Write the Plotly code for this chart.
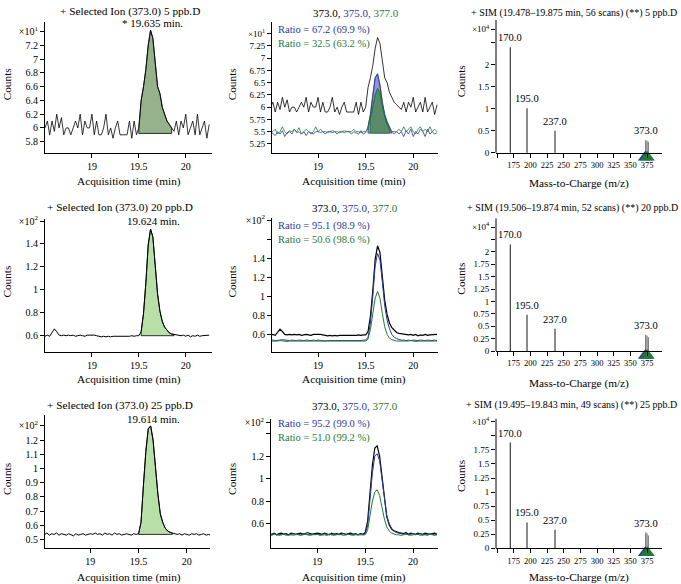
import plotly.graph_objects as go

# ------------------------------------------------------------------ data
TIME_MIN = [18.5, 18.525, 18.55, 18.575, 18.6, 18.625, 18.65, 18.675, 18.7, 18.725,
            18.75, 18.775, 18.8, 18.825, 18.85, 18.875, 18.9, 18.925, 18.95, 18.975,
            19.0, 19.025, 19.05, 19.075, 19.1, 19.125, 19.15, 19.175, 19.2, 19.225,
            19.25, 19.275, 19.3, 19.325, 19.35, 19.375, 19.4, 19.425, 19.45, 19.475,
            19.5, 19.525, 19.55, 19.575, 19.6, 19.625, 19.65, 19.675, 19.7, 19.725,
            19.75, 19.775, 19.8, 19.825, 19.85, 19.875, 19.9, 19.925, 19.95, 19.975,
            20.0, 20.025, 20.05, 20.075, 20.1, 20.125, 20.15, 20.175, 20.2, 20.225,
            20.25]

# 5 ppb (x10^1 counts)
ION373_5PPB = [6.0, 6.1, 5.9, 6.1, 5.95, 6.2, 6.0, 6.15, 5.9, 6.0,
               6.0, 5.9, 6.0, 6.1, 6.0, 6.2, 5.9, 6.1, 6.0, 6.0,
               6.2, 5.9, 6.1, 5.9, 5.9, 6.0, 6.2, 5.9, 6.0, 5.85,
               6.0, 6.1, 5.9, 5.9, 5.9, 5.9, 6.1, 5.85, 6.1, 5.9,
               6.0, 6.4, 6.6, 6.85, 7.2, 7.42, 7.3, 6.95, 6.6, 6.5,
               6.3, 6.2, 6.1, 6.05, 6.0, 5.95, 6.1, 5.9, 6.1, 6.0,
               6.2, 5.9, 6.0, 6.1, 5.9, 6.2, 5.9, 6.0, 6.1, 5.85,
               6.05]
ION375_5PPB = [5.5, 5.45, 5.42, 5.5, 5.45, 5.52, 5.4, 5.48, 5.5, 5.45,
               5.55, 5.48, 5.5, 5.45, 5.5, 5.42, 5.5, 5.48, 5.45, 5.5,
               5.5, 5.48, 5.5, 5.45, 5.5, 5.5, 5.48, 5.5, 5.45, 5.5,
               5.5, 5.48, 5.5, 5.5, 5.45, 5.5, 5.48, 5.45, 5.52, 5.45,
               5.48, 5.6, 5.85, 6.25, 6.6, 6.68, 6.45, 6.1, 5.85, 5.7,
               5.58, 5.5, 5.45, 5.5, 5.45, 5.5, 5.4, 5.52, 5.45, 5.55,
               5.4, 5.5, 5.45, 5.55, 5.5, 5.4, 5.55, 5.45, 5.5, 5.45,
               5.48]
ION377_5PPB = [5.48, 5.5, 5.55, 5.45, 5.5, 5.6, 5.5, 5.45, 5.52, 5.5,
               5.55, 5.5, 5.58, 5.45, 5.5, 5.55, 5.5, 5.45, 5.5, 5.6,
               5.5, 5.55, 5.5, 5.5, 5.48, 5.5, 5.52, 5.5, 5.5, 5.48,
               5.5, 5.52, 5.5, 5.5, 5.5, 5.55, 5.5, 5.5, 5.48, 5.5,
               5.5, 5.55, 5.75, 6.0, 6.25, 6.38, 6.3, 6.0, 5.8, 5.65,
               5.55, 5.5, 5.5, 5.5, 5.55, 5.5, 5.6, 5.5, 5.55, 5.6,
               5.5, 5.45, 5.55, 5.6, 5.5, 5.55, 5.5, 5.6, 5.5, 5.55,
               5.5]

# 20 ppb (x10^2 counts)
ION373_20PPB = [0.59, 0.6, 0.59, 0.62, 0.655, 0.63, 0.6, 0.595, 0.6, 0.595,
                0.6, 0.595, 0.6, 0.59, 0.595, 0.6, 0.595, 0.59, 0.6, 0.6,
                0.605, 0.6, 0.595, 0.59, 0.585, 0.59, 0.585, 0.59, 0.585, 0.59,
                0.59, 0.585, 0.59, 0.59, 0.585, 0.59, 0.59, 0.595, 0.59, 0.595,
                0.595, 0.63, 0.79, 1.06, 1.39, 1.53, 1.46, 1.21, 0.96, 0.81,
                0.72, 0.67, 0.64, 0.62, 0.61, 0.605, 0.6, 0.6, 0.595, 0.6,
                0.59, 0.6, 0.585, 0.595, 0.59, 0.6, 0.59, 0.595, 0.595, 0.6,
                0.6]
ION375_20PPB = [0.535, 0.54, 0.535, 0.535, 0.54, 0.545, 0.54, 0.535, 0.535, 0.54,
                0.535, 0.535, 0.54, 0.535, 0.535, 0.54, 0.535, 0.535, 0.54, 0.535,
                0.54, 0.535, 0.535, 0.53, 0.535, 0.535, 0.53, 0.535, 0.535, 0.53,
                0.535, 0.535, 0.53, 0.535, 0.535, 0.53, 0.535, 0.535, 0.535, 0.54,
                0.54, 0.57, 0.72, 1.0, 1.32, 1.45, 1.38, 1.15, 0.9, 0.75,
                0.66, 0.6, 0.57, 0.555, 0.545, 0.54, 0.54, 0.535, 0.54, 0.535,
                0.54, 0.535, 0.535, 0.54, 0.535, 0.535, 0.54, 0.535, 0.535, 0.54,
                0.535]
ION377_20PPB = [0.53, 0.53, 0.525, 0.53, 0.535, 0.53, 0.53, 0.525, 0.53, 0.53,
                0.525, 0.53, 0.53, 0.53, 0.525, 0.53, 0.53, 0.525, 0.53, 0.53,
                0.53, 0.525, 0.53, 0.53, 0.53, 0.525, 0.53, 0.53, 0.525, 0.53,
                0.53, 0.53, 0.525, 0.53, 0.53, 0.53, 0.525, 0.53, 0.53, 0.53,
                0.53, 0.55, 0.65, 0.82, 0.98, 1.05, 0.98, 0.82, 0.68, 0.6,
                0.56, 0.545, 0.535, 0.53, 0.53, 0.53, 0.525, 0.53, 0.53, 0.535,
                0.53, 0.525, 0.53, 0.53, 0.53, 0.525, 0.53, 0.53, 0.53, 0.525,
                0.53]

# 25 ppb (x10^2 counts)
ION373_25PPB = [0.54, 0.535, 0.545, 0.53, 0.54, 0.535, 0.545, 0.53, 0.54, 0.535,
                0.53, 0.54, 0.535, 0.525, 0.54, 0.53, 0.535, 0.54, 0.53, 0.535,
                0.54, 0.535, 0.545, 0.535, 0.54, 0.53, 0.545, 0.535, 0.54, 0.53,
                0.545, 0.535, 0.54, 0.53, 0.535, 0.54, 0.535, 0.53, 0.54, 0.535,
                0.54, 0.62, 0.88, 1.12, 1.28, 1.3, 1.2, 1.0, 0.82, 0.68,
                0.62, 0.58, 0.56, 0.55, 0.545, 0.54, 0.535, 0.54, 0.53, 0.54,
                0.535, 0.53, 0.54, 0.535, 0.54, 0.53, 0.535, 0.54, 0.53, 0.535,
                0.53]
ION373_25PPB_OVL = [0.51, 0.505, 0.515, 0.5, 0.51, 0.515, 0.505, 0.51, 0.5, 0.515,
                    0.51, 0.505, 0.51, 0.515, 0.505, 0.51, 0.52, 0.51, 0.505, 0.51,
                    0.515, 0.51, 0.505, 0.515, 0.51, 0.5, 0.515, 0.505, 0.51, 0.505,
                    0.515, 0.51, 0.505, 0.51, 0.515, 0.505, 0.51, 0.5, 0.51, 0.505,
                    0.52, 0.62, 0.9, 1.12, 1.27, 1.29, 1.2, 1.0, 0.8, 0.66,
                    0.59, 0.55, 0.535, 0.525, 0.52, 0.515, 0.51, 0.52, 0.505, 0.515,
                    0.51, 0.505, 0.515, 0.51, 0.505, 0.515, 0.51, 0.505, 0.51, 0.515,
                    0.505]
ION375_25PPB = [0.505, 0.5, 0.51, 0.5, 0.505, 0.5, 0.51, 0.505, 0.5, 0.505,
                0.51, 0.5, 0.505, 0.5, 0.51, 0.505, 0.5, 0.505, 0.51, 0.5,
                0.505, 0.5, 0.505, 0.51, 0.5, 0.505, 0.5, 0.51, 0.505, 0.5,
                0.505, 0.51, 0.5, 0.505, 0.5, 0.505, 0.51, 0.5, 0.505, 0.5,
                0.51, 0.58, 0.82, 1.05, 1.2, 1.22, 1.16, 0.98, 0.8, 0.67,
                0.6, 0.56, 0.535, 0.52, 0.515, 0.51, 0.505, 0.51, 0.5, 0.505,
                0.51, 0.5, 0.505, 0.51, 0.5, 0.505, 0.5, 0.51, 0.505, 0.5,
                0.505]
ION377_25PPB = [0.5, 0.495, 0.505, 0.5, 0.495, 0.5, 0.505, 0.495, 0.5, 0.5,
                0.495, 0.505, 0.5, 0.495, 0.5, 0.505, 0.5, 0.495, 0.5, 0.5,
                0.505, 0.495, 0.5, 0.5, 0.495, 0.505, 0.5, 0.495, 0.5, 0.505,
                0.5, 0.495, 0.5, 0.505, 0.5, 0.495, 0.5, 0.5, 0.495, 0.5,
                0.5, 0.54, 0.67, 0.8, 0.88, 0.9, 0.85, 0.74, 0.64, 0.57,
                0.535, 0.515, 0.505, 0.5, 0.5, 0.495, 0.5, 0.505, 0.5, 0.495,
                0.5, 0.5, 0.505, 0.495, 0.5, 0.5, 0.495, 0.505, 0.5, 0.495,
                0.5]

# integration windows: (start, end, baseline)
INT_5PPB = (19.5, 19.85, 5.92)
INT_5PPB_375 = (19.525, 19.775, 5.47)
INT_5PPB_377 = (19.55, 19.75, 5.47)
INT_20PPB = (19.525, 19.875, 0.595)
INT_25PPB = (19.5, 19.85, 0.535)

# SIM spectra (x10^4 counts)
MZ = [170.0, 195.0, 237.0, 373.0, 375.0, 377.0]
SIM_5PPB = [2.39, 1.01, 0.50, 0.28, 0.27, 0.25]
SIM_20PPB = [2.15, 0.73, 0.45, 0.33, 0.31, 0.28]
SIM_25PPB = [1.88, 0.46, 0.33, 0.28, 0.27, 0.23]
MZ_LABELS = ["170.0", "195.0", "237.0", "373.0"]
QUAL_MZ = [372.5, 375.5]   # quantifier / qualifier markers

TITLES_SI = ["+ Selected Ion (373.0) 5 ppb.D", "+ Selected Ion (373.0) 20 ppb.D",
             "+ Selected Ion (373.0) 25 ppb.D"]
RT_LABELS = ["* 19.635 min.", "19.624 min.", "19.614 min."]
RATIOS = [("Ratio = 67.2 (69.9 %)", "Ratio = 32.5 (63.2 %)"),
          ("Ratio = 95.1 (98.9 %)", "Ratio = 50.6 (98.6 %)"),
          ("Ratio = 95.2 (99.0 %)", "Ratio = 51.0 (99.2 %)")]
TITLES_SIM = ["+ SIM (19.478\u201319.875 min, 56 scans) (**) 5 ppb.D",
              "+ SIM (19.506\u201319.874 min, 52 scans) (**) 20 ppb.D",
              "+ SIM (19.495\u201319.843 min, 49 scans) (**) 25 ppb.D"]

# ------------------------------------------------------------------ style
FONT = "Liberation Serif"
BLACK = "#000000"
BLUE = "#2b3a98"
GREEN = "#1f7a35"
W, H = 681, 584
EXT = 11  # extra px below spectrum x-axis for the ion markers


def fx(p):
    return p / W


def fy(p):
    return 1 - p / H


# pixel boxes (x0, x1, ytop, ybottom)
BOX = {1: (45, 212, 17, 149), 2: (272, 438, 17, 149), 3: (496, 662, 15, 149),
       4: (45, 212, 216, 350), 5: (272, 438, 215, 350), 6: (496, 662, 215, 349),
       7: (45, 210, 414, 548), 8: (271, 438, 418, 548), 9: (496, 662, 417, 548)}

XR = {1: [18.5, 20.28], 2: [18.516, 20.26], 3: [148.5, 397.5],
      4: [18.5, 20.28], 5: [18.516, 20.26], 6: [148.5, 397.5],
      7: [18.53, 20.24], 8: [18.516, 20.26], 9: [148.5, 397.5]}
YR = {1: [5.64, 7.54], 2: [5.07, 7.74], 3: [0, 3.01],
      4: [0.452, 1.617], 5: [0.415, 1.82], 6: [0, 2.68],
      7: [0.437, 1.374], 8: [0.38, 1.525], 9: [0, 2.31]}

X1 = "\u00d710<sup>1</sup>"
X2 = "\u00d710<sup>2</sup>"
X4 = "\u00d710<sup>4</sup>"
YT = {
    1: ([5.8, 6, 6.2, 6.4, 6.6, 6.8, 7, 7.2, 7.4], ["5.8", "6", "6.2", "6.4", "6.6", "6.8", "7", "7.2", X1]),
    2: ([5.25, 5.5, 5.75, 6, 6.25, 6.5, 6.75, 7, 7.25, 7.5],
        ["5.25", "5.5", "5.75", "6", "6.25", "6.5", "6.75", "7", "7.25", X1]),
    3: ([0, 0.5, 1, 1.5, 2, 2.5, 2.8], ["0", "0.5", "1", "1.5", "2", "", X4]),
    4: ([0.6, 0.8, 1, 1.2, 1.4, 1.6], ["0.6", "0.8", "1", "1.2", "1.4", X2]),
    5: ([0.6, 0.8, 1, 1.2, 1.4, 1.6, 1.8], ["0.6", "0.8", "1", "1.2", "1.4", "", X2]),
    6: ([0, 0.25, 0.5, 0.75, 1, 1.25, 1.5, 1.75, 2, 2.25, 2.5],
        ["0", "0.25", "0.5", "0.75", "1", "1.25", "1.5", "1.75", "2", "", X4]),
    7: ([0.5, 0.6, 0.7, 0.8, 0.9, 1, 1.1, 1.2, 1.3],
        ["0.5", "0.6", "0.7", "0.8", "0.9", "1", "1.1", "1.2", X2]),
    8: ([0.6, 0.8, 1, 1.2, 1.4, 1.5], ["0.6", "0.8", "1", "1.2", "", X2]),
    9: ([0, 0.25, 0.5, 0.75, 1, 1.25, 1.5, 1.75, 2, 2.25],
        ["0", "0.25", "0.5", "0.75", "1", "1.25", "1.5", "1.75", "", X4]),
}
YTICK_SIZE = {1: 10, 2: 9, 3: 9, 4: 10, 5: 10, 6: 9, 7: 10, 8: 10, 9: 9}
XT_TIME = ([19, 19.5, 20], ["19", "19.5", "20"])
XT_MZ = ([150, 175, 200, 225, 250, 275, 300, 325, 350, 375],
         ["", "175", "200", "225", "250", "275", "300", "325", "350", "375"])
SPEC = (3, 6, 9)


def sfx(i):
    return "" if i == 1 else str(i)


def yrange(i):
    lo, hi = YR[i]
    if i in SPEC:
        x0, x1, yt, yb = BOX[i]
        ppu = (yb - yt) / (hi - lo)
        return [lo - EXT / ppu, hi]
    return [lo, hi]


fig = go.Figure()


def line(i, x, y, color, width=1.0):
    fig.add_trace(go.Scatter(x=x, y=y, mode="lines", line=dict(color=color, width=width),
                             xaxis="x" + sfx(i), yaxis="y" + sfx(i), hoverinfo="skip"))


def peak_fill(i, x, y, window, fillcolor, edge):
    t0, t1, base = window
    xs = [a for a in x if t0 <= a <= t1]
    ys = [b for a, b in zip(x, y) if t0 <= a <= t1]
    fig.add_trace(go.Scatter(x=xs + [xs[-1], xs[0], xs[0]], y=ys + [base, base, ys[0]],
                             mode="lines", fill="toself", fillcolor=fillcolor,
                             line=dict(color=edge, width=0.8),
                             xaxis="x" + sfx(i), yaxis="y" + sfx(i), hoverinfo="skip"))


# row 1
peak_fill(1, TIME_MIN, ION373_5PPB, INT_5PPB, "#96b28c", BLACK)
line(1, TIME_MIN, ION373_5PPB, BLACK, 0.8)
peak_fill(2, TIME_MIN, ION375_5PPB, INT_5PPB_375, "#9394d8", BLUE)
peak_fill(2, TIME_MIN, ION377_5PPB, INT_5PPB_377, "#5a8a6a", GREEN)
line(2, TIME_MIN, ION375_5PPB, BLUE, 0.8)
line(2, TIME_MIN, ION377_5PPB, GREEN, 0.8)
line(2, TIME_MIN, ION373_5PPB, BLACK, 0.8)
# row 2
peak_fill(4, TIME_MIN, ION373_20PPB, INT_20PPB, "#b9dfa9", BLACK)
line(4, TIME_MIN, ION373_20PPB, BLACK, 1.0)
line(5, TIME_MIN, ION373_20PPB, BLACK, 1.2)
line(5, TIME_MIN, ION375_20PPB, BLUE, 1.0)
line(5, TIME_MIN, ION377_20PPB, GREEN, 1.0)
# row 3
peak_fill(7, TIME_MIN, ION373_25PPB, INT_25PPB, "#b9dfa9", BLACK)
line(7, TIME_MIN, ION373_25PPB, BLACK, 1.0)
line(8, TIME_MIN, ION373_25PPB_OVL, BLACK, 1.2)
line(8, TIME_MIN, ION375_25PPB, BLUE, 1.0)
line(8, TIME_MIN, ION377_25PPB, GREEN, 1.0)

# spectra
shapes = []
for i, vals in ((3, SIM_5PPB), (6, SIM_20PPB), (9, SIM_25PPB)):
    fig.add_trace(go.Bar(x=MZ[:3], y=vals[:3], width=1.8, marker=dict(color="#3c3c3c", line=dict(width=0)),
                         xaxis="x" + sfx(i), yaxis="y" + sfx(i), hoverinfo="skip"))
    fig.add_trace(go.Bar(x=MZ[3:], y=vals[3:], width=1.8, marker=dict(color="#7a7a7a", line=dict(width=0)),
                         xaxis="x" + sfx(i), yaxis="y" + sfx(i), hoverinfo="skip"))
    x0, x1, yt, yb = BOX[i]
    ppu = (yb - yt) / (YR[i][1] - YR[i][0])
    ytri = -4.5 / ppu
    fig.add_trace(go.Scatter(x=QUAL_MZ, y=[ytri, ytri], mode="markers",
                             marker=dict(symbol="triangle-up", size=13, color=[BLUE, GREEN],
                                         line=dict(width=0)),
                             xaxis="x" + sfx(i), yaxis="y" + sfx(i), hoverinfo="skip"))
    # y-axis spine from 0 up to the top of the panel
    shapes.append(dict(type="line", xref="x%s domain" % sfx(i), yref="y" + sfx(i),
                       x0=0, x1=0, y0=0, y1=YR[i][1], line=dict(color="black", width=1)))

common = dict(showline=True, linecolor="black", linewidth=1, ticks="outside", ticklen=4,
              tickwidth=1, tickcolor="black", showgrid=False, zeroline=False, mirror=False,
              fixedrange=True, tickfont=dict(family=FONT, size=10, color="black"))

layout = {}
for i in range(1, 10):
    x0, x1, yt, yb = BOX[i]
    is_mz = i in SPEC
    xt = XT_MZ if is_mz else XT_TIME
    xax = dict(common, domain=[fx(x0), fx(x1)], anchor="y" + sfx(i), range=XR[i],
               tickvals=xt[0], ticktext=xt[1])
    yax = dict(common, domain=[fy(yb), fy(yt)], anchor="x" + sfx(i),
               range=yrange(i), tickvals=YT[i][0], ticktext=YT[i][1],
               tickfont=dict(family=FONT, size=YTICK_SIZE[i], color="black"))
    if is_mz:
        xax["tickfont"] = dict(family=FONT, size=8.5, color="black")
        xax["tickangle"] = 0
        xax["anchor"] = "free"
        xax["position"] = fy(yb)
        yax["domain"] = [fy(yb + EXT), fy(yt)]
        yax["showline"] = False
    layout["xaxis" + sfx(i)] = xax
    layout["yaxis" + sfx(i)] = yax

ann = []


def txt(xp, yp, text, size=11.3, color="black", xanchor="center", angle=0, yanchor="middle"):
    ann.append(dict(x=fx(xp), y=fy(yp), xref="paper", yref="paper", text=text, showarrow=False,
                    xanchor=xanchor, yanchor=yanchor, textangle=angle,
                    font=dict(family=FONT, size=size, color=color)))


ISO_TITLE = ('373.0, <span style="color:%s">375.0,</span> <span style="color:%s">377.0</span>'
             % (BLUE, GREEN))

txt(129.5, 7, TITLES_SI[0]); txt(120, 204, TITLES_SI[1]); txt(119.5, 404, TITLES_SI[2])
txt(152, 18, RT_LABELS[0], 11); txt(153, 218, RT_LABELS[1], 11); txt(153, 418, RT_LABELS[2], 11)
txt(356, 8, ISO_TITLE, 11); txt(355, 205, ISO_TITLE, 11); txt(355, 404, ISO_TITLE, 11)
txt(679, 8, TITLES_SIM[0], 10, xanchor="right")
txt(680, 205, TITLES_SIM[1], 10, xanchor="right")
txt(679, 403, TITLES_SIM[2], 10, xanchor="right")

for yc, (rb, rg) in zip((32, 230, 429.5), RATIOS):
    txt(276, yc, '<span style="color:%s">%s</span><br><span style="color:%s">%s</span>'
        % (BLUE, rb, GREEN, rg), 10.5, BLUE, "left")

# axis titles
for yc_row, yx_row, yx_mz in ((80, 178, 180), (279, 378, 382), (478, 577, 577)):
    txt(7, yc_row, "Counts", angle=-90)
    txt(232, yc_row, "Counts", angle=-90)
    txt(461, yc_row - 3, "Counts", angle=-90)
    txt(128.5, yx_row, "Acquisition time (min)")
    txt(354, yx_row, "Acquisition time (min)")
    txt(579, yx_mz, "Mass-to-Charge (m/z)")

# spectrum peak labels
for i, vals in ((3, SIM_5PPB), (6, SIM_20PPB), (9, SIM_25PPB)):
    for m, v, lab in zip(MZ, vals, MZ_LABELS):
        ann.append(dict(x=m, y=v, xref="x" + sfx(i), yref="y" + sfx(i), text=lab, showarrow=False,
                        xanchor="center", yanchor="bottom", yshift=2,
                        font=dict(family=FONT, size=10.5, color="black")))

fig.update_layout(width=W, height=H, margin=dict(l=0, r=0, t=0, b=0), showlegend=False,
                  plot_bgcolor="white", paper_bgcolor="white", hovermode=False,
                  annotations=ann, shapes=shapes, barmode="overlay", **layout)

fig.write_html("out.html", config={"displayModeBar": False, "staticPlot": True},
               post_script="document.body.style.margin='0';document.body.style.padding='0';")
